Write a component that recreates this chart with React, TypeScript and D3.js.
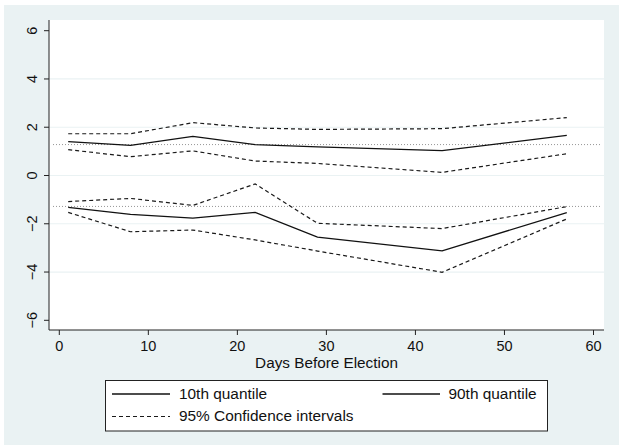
import React from "react";
import * as d3 from "d3";

const days = [1, 8, 15, 22, 29, 43, 57];
const q90 = [1.4, 1.25, 1.62, 1.28, 1.19, 1.03, 1.66];
const q90Hi = [1.73, 1.73, 2.19, 1.97, 1.91, 1.94, 2.4];
const q90Lo = [1.07, 0.78, 1.02, 0.6, 0.5, 0.13, 0.9];
const q10 = [-1.32, -1.61, -1.77, -1.53, -2.55, -3.12, -1.54];
const q10Hi = [-1.08, -0.95, -1.24, -0.35, -1.98, -2.2, -1.29];
const q10Lo = [-1.53, -2.33, -2.26, -2.67, -3.13, -4.01, -1.8];
const refLines = [1.2816, -1.2816];
const xTicks = [0, 10, 20, 30, 40, 50, 60];
const yTicks = [-6, -4, -2, 0, 2, 4, 6];
const gridTicks = [-4, -2, 0, 2, 4];
const legendLabels = ["10th quantile", "90th quantile", "95% Confidence intervals"];
const xTitle = "Days Before Election";

const W = 619;
const H = 448;
const BG = "#eaf2f3";
const FONT = "'Liberation Sans', Arial, Helvetica, sans-serif";

export default function App() {
  const x = d3.scaleLinear().domain([0, 60]).range([59.3, 593.5]);
  const y = d3.scaleLinear().domain([-6, 6]).range([320.3, 30.7]);
  const plotL = 49, plotR = 604, plotT = 20, plotB = 330;

  const line = d3
    .line<number>()
    .x((_, i) => x(days[i]))
    .y((d) => y(d));

  const solid = [q90, q10];
  const dashed = [q90Hi, q90Lo, q10Hi, q10Lo];

  return (
    <svg
      width={W}
      height={H}
      style={{ position: "absolute", left: 0, top: 0 }}
      fontFamily={FONT}
    >
      <rect x={0} y={0} width={W} height={H} fill="#ffffff" />
      <rect x={4} y={5} width={W - 4} height={H - 8} fill={BG} />
      <rect x={plotL} y={plotT} width={plotR - plotL} height={plotB - plotT} fill="#ffffff" />
      {gridTicks.map((t) => (
        <line key={t} x1={plotL} x2={plotR} y1={y(t)} y2={y(t)} stroke={BG} strokeWidth={1.2} />
      ))}
      {refLines.map((r) => (
        <line
          key={r}
          x1={53}
          x2={601}
          y1={y(r)}
          y2={y(r)}
          stroke="#8a8a8a"
          strokeWidth={0.9}
          strokeDasharray="1 2"
        />
      ))}
      {dashed.map((s, i) => (
        <path
          key={"d" + i}
          d={line(s) || ""}
          fill="none"
          stroke="#1a1a1a"
          strokeWidth={1.2}
          strokeDasharray="4 3"
        />
      ))}
      {solid.map((s, i) => (
        <path key={"s" + i} d={line(s) || ""} fill="none" stroke="#111" strokeWidth={1.3} />
      ))}
      {/* axes */}
      <line x1={plotL} x2={plotL} y1={plotT} y2={plotB} stroke="#222" strokeWidth={1} />
      <line x1={plotL} x2={plotR} y1={plotB} y2={plotB} stroke="#222" strokeWidth={1} />
      {yTicks.map((t) => (
        <g key={t}>
          <line x1={plotL - 5} x2={plotL} y1={y(t)} y2={y(t)} stroke="#222" />
          <text
            transform={`translate(37,${y(t)}) rotate(-90)`}
            textAnchor="middle"
            fontSize={14.5}
            fill="#111"
          >
            {t < 0 ? "\u2212" + Math.abs(t) : String(t)}
          </text>
        </g>
      ))}
      {xTicks.map((t) => (
        <g key={t}>
          <line x1={x(t)} x2={x(t)} y1={plotB} y2={plotB + 5} stroke="#222" />
          <text x={x(t)} y={351} textAnchor="middle" fontSize={14.5} fill="#111">
            {t}
          </text>
        </g>
      ))}
      <text x={326.5} y={367.7} textAnchor="middle" fontSize={15.3} fill="#111">
        {xTitle}
      </text>
      {/* legend */}
      <rect x={105.5} y={380.5} width={442} height={50.5} fill="#ffffff" stroke="#222" strokeWidth={1} />
      <line x1={112} x2={170} y1={394} y2={394} stroke="#111" strokeWidth={1.3} />
      <text x={179} y={399.3} fontSize={15.4} fill="#111">{legendLabels[0]}</text>
      <line x1={382.5} x2={440} y1={394} y2={394} stroke="#111" strokeWidth={1.3} />
      <text x={448.5} y={399.3} fontSize={15.4} fill="#111">{legendLabels[1]}</text>
      <line x1={112} x2={170} y1={416.5} y2={416.5} stroke="#1a1a1a" strokeWidth={1.2} strokeDasharray="4 3" />
      <text x={179} y={421.3} fontSize={15.4} fill="#111">{legendLabels[2]}</text>
    </svg>
  );
}
